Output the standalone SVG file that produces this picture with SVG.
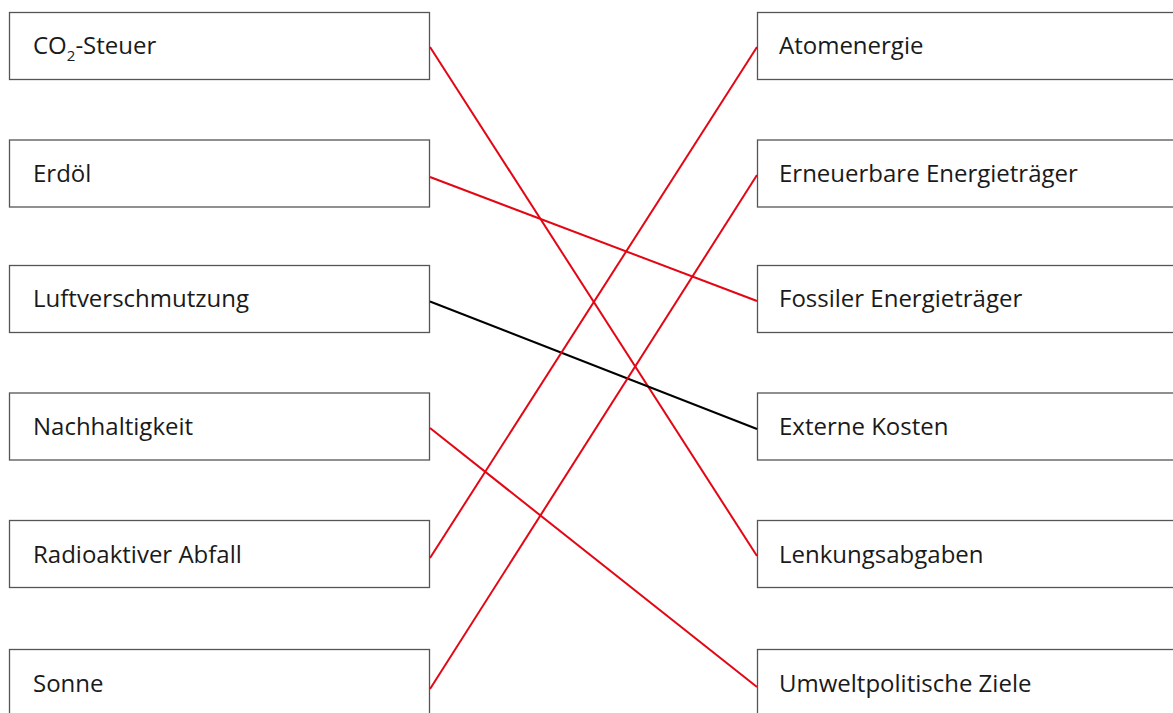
<svg xmlns="http://www.w3.org/2000/svg" width="1173" height="713" viewBox="0 0 1173 713">
<style>
.box{fill:#fff;stroke:#555;stroke-width:1.3}
.t{font-family:"Open Sans","Noto Sans",sans-serif;font-size:24px;fill:#1a1a1a}
.r{stroke:#e30613;stroke-width:2;fill:none}
.k{stroke:#000;stroke-width:2;fill:none}
</style>
<rect width="1173" height="713" fill="#fff"/>
<g id="n-co2"><rect class="box" x="9.5" y="12.5" width="420" height="67"/><text class="t" x="33" y="54">CO<tspan font-size="15" dy="7">2</tspan><tspan dy="-7">-Steuer</tspan></text></g>
<g id="n-erdoel"><rect class="box" x="9.5" y="140" width="420" height="67"/><text class="t" x="33" y="182">Erdöl</text></g>
<g id="n-luft"><rect class="box" x="9.5" y="265.5" width="420" height="67"/><text class="t" x="33" y="307">Luftverschmutzung</text></g>
<g id="n-nach"><rect class="box" x="9.5" y="393" width="420" height="67"/><text class="t" x="33" y="435">Nachhaltigkeit</text></g>
<g id="n-radio"><rect class="box" x="9.5" y="520.5" width="420" height="67"/><text class="t" x="33" y="563">Radioaktiver Abfall</text></g>
<g id="n-sonne"><rect class="box" x="9.5" y="649.5" width="420" height="67"/><text class="t" x="33" y="692">Sonne</text></g>
<g id="n-atom"><rect class="box" x="757.5" y="12.5" width="430" height="67"/><text class="t" x="779" y="54">Atomenergie</text></g>
<g id="n-erneu"><rect class="box" x="757.5" y="140" width="430" height="67"/><text class="t" x="779" y="182">Erneuerbare Energieträger</text></g>
<g id="n-foss"><rect class="box" x="757.5" y="265.5" width="430" height="67"/><text class="t" x="779" y="307">Fossiler Energieträger</text></g>
<g id="n-ext"><rect class="box" x="757.5" y="393" width="430" height="67"/><text class="t" x="779" y="435">Externe Kosten</text></g>
<g id="n-lenk"><rect class="box" x="757.5" y="520.5" width="430" height="67"/><text class="t" x="779" y="563">Lenkungsabgaben</text></g>
<g id="n-umw"><rect class="box" x="757.5" y="649.5" width="430" height="67"/><text class="t" x="779" y="692">Umweltpolitische Ziele</text></g>
<g id="connectors">
<line class="r" x1="430" y1="47" x2="757" y2="556"/>
<line class="r" x1="430" y1="177" x2="757" y2="301"/>
<line class="k" x1="430" y1="301.5" x2="757" y2="429"/>
<line class="r" x1="430" y1="428" x2="757" y2="687"/>
<line class="r" x1="430" y1="558" x2="757" y2="47"/>
<line class="r" x1="430" y1="689" x2="757" y2="175"/>
</g>
</svg>
